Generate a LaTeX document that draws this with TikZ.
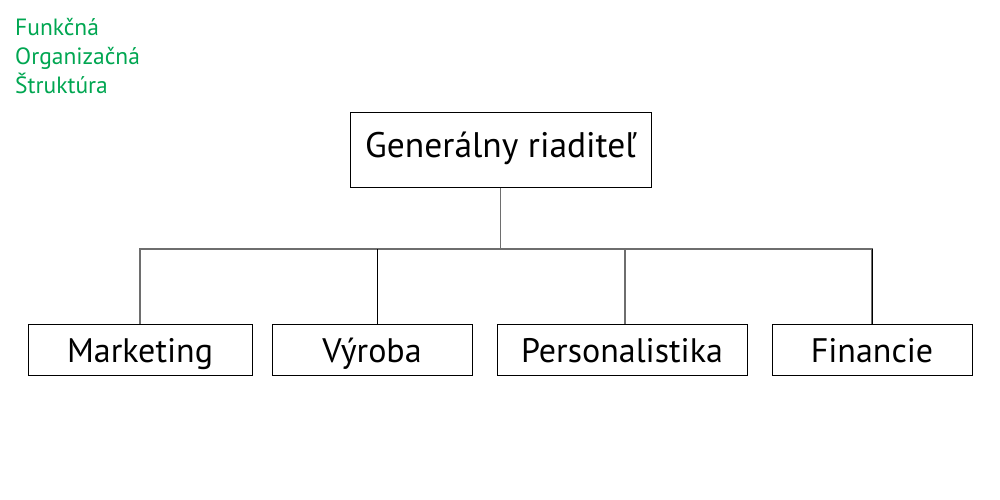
\documentclass[tikz,border=0pt]{standalone}
\usepackage{fontspec}
\setmainfont{PT Sans}
\definecolor{titlegreen}{HTML}{00A651}
\definecolor{linegray}{HTML}{6E6E6E}
\begin{document}
\begin{tikzpicture}[x=1pt,y=-1pt,
  box/.style={draw=black,line width=1pt,inner sep=0pt,minimum height=51pt,text height=27pt,text depth=2pt,font=\fontsize{34}{38}\selectfont},
  conn/.style={draw=linegray,line width=1.3pt},
  connb/.style={draw=black,line width=0.9pt}]
\useasboundingbox (0,0) rectangle (1000,500);
\node[anchor=north west,align=left,text=titlegreen,font=\fontsize{23.5}{29}\selectfont,inner sep=0pt] (title) at (15,18) {Funkčná\\Organizačná\\Štruktúra};
\node[box,minimum width=301pt,minimum height=74pt,text height=22pt,text depth=8pt,font=\fontsize{35.5}{40}\selectfont] (top) at (500.5,150) {Generálny riaditeľ};
\node[box,minimum width=224pt] (m) at (140,349.5) {Marketing};
\node[box,minimum width=200pt] (v) at (372,349.5) {Výroba};
\node[box,minimum width=250pt] (p) at (622,349.5) {Personalistika};
\node[box,minimum width=200pt] (f) at (872,349.5) {Financie};
\coordinate (bus) at (500,249);
\draw[conn] (top.south) -- (top.south |- bus) -| (m.north);
\draw[conn] (top.south |- bus) -| (f.north);
\draw[conn] (p.north -| 625,0) -- (625,249);
\draw[connb] (v.north -| 377,0) -- (377,249);
\draw[connb] (f.north) -- (f.north |- bus);
\end{tikzpicture}
\end{document}
